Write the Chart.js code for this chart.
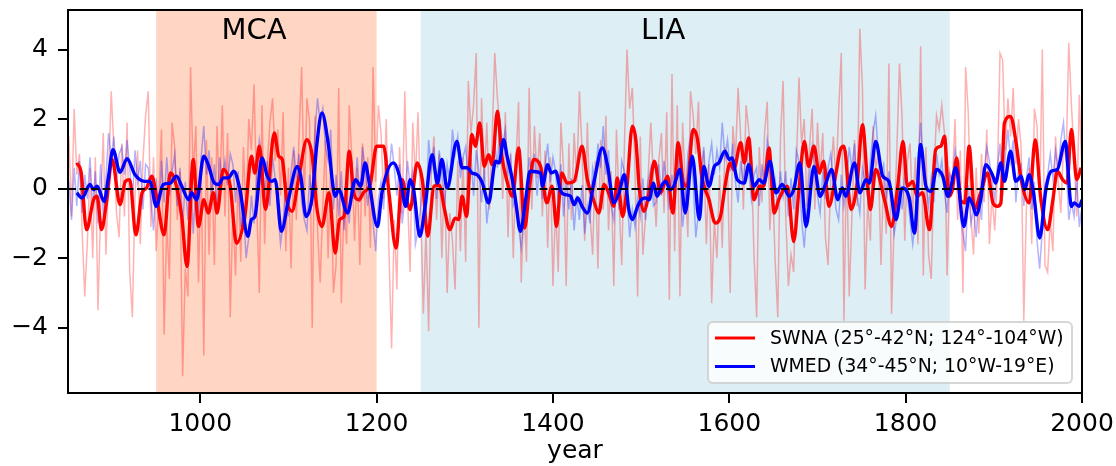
<!DOCTYPE html>
<html>
<head>
<meta charset="utf-8">
<script src="https://cdn.jsdelivr.net/npm/chart.js@4/dist/chart.umd.min.js"></script>
<style>
  html, body { margin: 0; padding: 0; background: #fff; }
  #wrap { width: 1116px; height: 466px; }
</style>
</head>
<body>
<div id="wrap"><canvas id="chart" width="1116" height="466"></canvas></div>
<script>
// annual series, sampled every 3 years from 851 to 2000
const rawStart = 851;
const rawStep = 3;

const swnaAnnual = [
  1.5, -0.8, 2.3, 0.4, 1.0, -1.2, -3.1, -1.5, 0.6, -2.0,
  0.9, -3.5, -0.6, 1.6, -1.9, 0.3, 2.8, 1.2, -0.7, -1.4,
  1.3, -0.8, 1.9, -2.4, -3.7, -0.2, 1.1, -1.6, 0.8, 2.1,
  2.8, -1.1, 0.9, -1.8, -0.3, 1.7, -4.2, -1.0, -2.6, 1.9,
  1.2, -0.9, 0.5, -5.4, -2.3, -3.1, 3.5, 0.4, 1.8, -2.7,
  0.6, -4.8, 1.4, -1.9, 0.9, -2.2, 1.8, -0.4, 2.4, -0.8,
  1.6, -3.7, -0.6, -2.5, 0.3, -2.1, 1.2, -0.9, 2.0, 1.1,
  3.0, -0.4, -3.0, 2.4, -1.6, 0.7, 1.9, 2.6, 0.8, 1.7,
  -0.2, 2.2, -1.8, 0.6, -2.3, 1.1, -0.9, 1.5, 3.5, -0.4,
  2.6, 1.9, -4.0, 2.1, -1.2, -2.7, -0.5, 1.4, -2.0, 0.9,
  -3.0, -2.2, 2.9, -3.3, -0.4, -1.6, 2.4, 0.8, -1.5, 0.6,
  -2.2, 1.3, -0.8, 0.9, -1.7, 3.5, 0.2, 2.4, 1.6, -0.3,
  2.0, -1.8, -4.6, -0.9, -2.9, 1.2, -0.7, 2.8, -0.2, -2.4,
  1.9, 0.3, 2.2, -0.6, -3.6, -1.2, -4.1, 0.4, 1.5, -0.9,
  1.0, -2.0, 0.5, -3.0, -0.7, -1.5, -2.9, 0.8, -1.8, 0.9,
  -2.1, 3.1, 1.6, 2.4, 3.9, -4.0, 2.6, 0.2, 1.9, -0.6,
  1.4, 3.9, 2.6, 1.8, -0.3, 2.2, -1.4, 1.0, -2.0, 0.7,
  2.5, -2.7, -0.4, -2.1, 2.9, -0.6, 1.8, 0.3, 1.6, -0.8,
  1.1, -1.7, 0.9, -2.8, -0.5, -2.4, 1.9, 0.6, -2.8, 1.3,
  -0.9, 1.6, 0.2, 2.8, 1.1, -1.5, 1.9, -0.7, -1.9, 0.8,
  -2.3, 1.4, -0.6, 2.1, -1.2, 0.5, -2.8, 1.7, -0.4, -2.2,
  1.2, 4.0, 2.3, 2.9, 0.6, -3.1, 1.5, -1.9, -0.8, 0.4,
  1.9, 0.3, -1.1, 0.8, 1.6, -0.7, 2.2, -3.2, 3.3, -1.8,
  2.4, -3.1, 1.9, 0.2, -1.4, 2.8, 2.1, 1.0, 2.5, -0.3,
  1.1, -1.6, 0.7, -3.3, -0.9, -2.0, 0.4, -1.7, 1.2, 0.6,
  -3.0, 1.8, 0.9, 2.9, 1.4, -0.6, 2.4, 1.7, 0.8, -1.9,
  -3.7, 1.2, -0.4, 1.6, 2.5, -1.2, 0.3, -2.1, -3.7, 1.4,
  3.1, -0.8, -2.8, -1.9, -2.4, 0.6, 3.2, 1.3, 2.0, -0.5,
  1.2, 2.3, -0.6, 1.9, 0.4, 1.6, -1.4, -2.2, 0.3, 1.5,
  0.2, 2.2, 3.9, -3.8, 0.9, -3.1, -0.8, 1.4, -0.5, 4.6,
  2.9, -2.9, -0.4, -1.5, 1.8, 0.6, 1.0, -2.2, 0.4, -1.3,
  3.6, -3.6, -0.9, 1.1, 3.6, 2.0, -1.5, 0.8, 1.3, -0.8,
  0.9, -1.6, 4.1, -2.5, 1.2, -1.9, -2.6, 0.4, 2.1, 1.7,
  2.4, 1.6, -2.5, 0.5, 0.2, 2.0, -0.9, 1.1, -3.0, 3.5,
  2.2, -0.8, -1.9, 0.6, -1.3, 1.0, -0.4, 1.7, -1.6, -0.2,
  -1.2, 0.3, 3.9, 3.7, 1.1, 2.6, 1.5, 2.9, 0.7, 2.0,
  1.2, -3.8, -0.5, 0.6, -1.6, 2.3, 1.8, -0.4, 4.0, -2.2,
  -2.4, -0.9, -1.8, 1.5, 0.2, -0.7, 1.3, 0.8, 4.2, 2.4,
  1.0, -0.8, 2.7, 0.4
];

const wmedAnnual = [
  0.2, -0.9, 0.6, -0.5, 0.8, -0.7, 0.4, -0.3, 0.9, -0.6,
  0.5, -1.0, 0.7, -0.8, 0.3, 1.6, 0.9, 1.5, 0.2, 1.0,
  1.2, 0.4, 1.4, 0.6, -0.4, 1.1, 0.2, 0.8, -0.6, 0.7,
  0.6, -0.3, -1.2, 0.3, -0.9, 0.8, -0.4, 0.9, -0.2, 0.5,
  1.0, -0.5, 0.6, -1.1, 0.2, -0.9, 0.5, -1.3, 0.1, -0.7,
  0.9, 1.8, 0.4, 1.1, -0.3, 0.7, -0.6, 0.9, 0.2, 0.8,
  0.1, 1.0, 0.7, -0.4, 0.5, -1.1, -0.6, -2.0, -1.4, -0.2,
  -1.0, 0.3, 1.4, 0.9, -0.2, 0.8, -0.5, 0.9, 0.3, -0.6,
  -1.6, -1.0, 0.2, -0.8, 0.5, 1.2, 0.3, 1.0, -0.4, -0.9,
  -1.2, 0.4, -0.5, 1.6, 2.6, 1.9, 2.3, 1.2, 0.8, 1.7,
  -0.6, 0.4, -0.8, 0.5, -1.2, -0.2, -1.0, 0.8, -0.3, 0.9,
  -0.4, 1.2, 0.6, -0.5, 0.3, -1.0, -1.8, -0.3, 0.2, -0.6,
  1.0, 0.4, 1.3, 0.6, -0.2, 0.7, -1.0, -0.3, 0.8, 0.1,
  0.5, -1.6, -1.2, -0.5, 0.3, -0.8, 1.4, 0.6, 1.2, -0.3,
  1.1, 0.4, -0.6, 0.7, 0.2, 1.7, 1.0, 1.5, 0.3, 0.9,
  1.2, 0.2, 0.9, -0.2, 1.1, 0.5, -0.4, 0.6, -1.0, -0.3,
  0.3, 1.3, 0.6, 2.0, 1.2, 1.7, 0.4, 0.9, -0.5, -0.3,
  -1.1, -1.7, -0.9, -0.2, 0.9, 0.3, 1.0, -0.2, 0.8, -0.3,
  0.6, 1.3, 0.2, 0.9, 0.5, -0.4, 0.7, -0.8, 0.2, -0.6,
  0.3, -1.2, -0.2, -0.9, 0.1, -1.3, -0.5, -1.0, 0.6, 0.2,
  1.3, 0.6, 1.8, 0.4, 1.1, -0.5, -0.9, 0.2, -0.6, 0.8,
  0.5, -0.2, -1.4, -0.6, -1.1, -0.3, -0.8, 0.3, -0.9, 0.2,
  0.6, -0.5, -0.4, 0.7, -0.2, 0.8, 0.1, -0.6, 0.4, -0.3,
  1.1, 0.3, -1.1, -0.4, 1.0, 1.5, 0.2, -1.4, -0.7, 0.4,
  1.2, -0.1, 0.8, 1.3, 0.4, 1.1, 0.6, 1.9, 0.9, 1.4,
  0.5, 1.3, 0.2, -0.4, 0.8, 0.1, 1.2, 0.5, -0.3, 0.4,
  0.6, -0.5, 0.7, 0.1, 1.4, 0.9, -0.4, 0.2, -0.6, 0.5,
  -0.2, 0.5, -0.8, 0.3, -0.6, 1.1, 0.8, -0.9, -1.7, -0.6,
  0.4, 1.2, 0.7, -0.2, -0.7, 0.5, -0.3, 0.6, 1.0, 0.3,
  -0.6, -0.9, 0.4, -0.5, 0.1, 1.2, 0.6, 1.3, -0.2, -0.7,
  0.6, 0.2, -0.3, 0.8, 1.6, 2.1, 1.0, 0.4, 0.7, -0.3,
  0.5, -0.4, -1.3, -0.8, 0.3, -0.6, 0.4, -0.2, -0.9, -1.6,
  -0.9, 0.8, 1.9, 0.6, 0.2, -0.5, 0.3, -0.4, 1.0, 0.4,
  0.8, -0.1, -0.7, 0.4, 0.2, 1.1, 0.6, -0.8, -1.3, -1.8,
  0.1, -1.0, -0.6, -1.4, -0.2, -0.9, 0.5, 1.2, 0.8, 0.2,
  -0.3, 0.6, 1.3, -0.2, 0.9, 1.7, 0.8, 1.4, -0.4, 0.6,
  0.7, -0.5, 0.3, 0.9, -0.6, 0.2, -1.5, -2.3, -1.2, 0.1,
  0.4, 1.0, 0.3, 1.1, 0.5, 1.4, 1.9, 0.8, -0.9, -0.4,
  -0.8, 0.3, -1.1, -0.5
];

// smoothed series, [year, value]
const swnaSmooth = [
  [860,0.74],[865,0.45],[871,-1.18],[879,-0.32],[883,-0.22],[888,-1.18],[894,-0.32],[900,0.84],
  [909,-0.46],[915,0.21],[920,0.26],[927,-1.33],[934,-0.12],[939,0.02],[945,0.36],[951,-0.32],
  [959,-1.33],[966,0.45],[971,0.26],[979,-0.8],[985,-2.24],[992,0.84],[998,-1.09],[1004,-0.32],
  [1009,-0.7],[1015,-0.12],[1019,-0.7],[1026,0.55],[1034,0.07],[1041,-1.57],[1051,-0.7],[1058,0.93],
  [1062,0.45],[1067,1.22],[1074,-0.6],[1084,1.6],[1089,0.93],[1093,0.84],[1098,-0.32],[1104,-0.65],
  [1112,0.36],[1121,1.41],[1127,0.93],[1132,-0.51],[1138,-1.09],[1146,-0.12],[1153,-1.85],[1158,-0.89],
  [1163,-0.8],[1169,1.08],[1174,-0.12],[1180,-0.32],[1185,-0.12],[1193,0.16],[1200,1.22],[1208,1.22],
  [1214,-0.12],[1222,-1.71],[1229,0.26],[1234,-0.32],[1238,-0.6],[1246,0.74],[1252,0.21],[1258,-1.37],
  [1265,0.07],[1271,0.1],[1277,-0.6],[1283,-1.18],[1289,-0.85],[1293,-0.89],[1297,-0.22],[1302,-0.8],
  [1308,1.56],[1312,1.22],[1317,1.89],[1322,0.64],[1327,0.98],[1331,0.69],[1337,2.23],[1342,0.93],
  [1348,0.21],[1354,-0.22],[1361,1.17],[1368,-1.13],[1373,-0.03],[1378,0.84],[1386,0.64],[1393,-0.41],
  [1399,0.07],[1404,-1.09],[1410,0.45],[1416,0.16],[1424,0.21],[1433,1.22],[1439,0.26],[1446,-0.32],
  [1452,-0.7],[1458,0.12],[1463,-0.12],[1469,-0.51],[1473,0.31],[1479,-0.8],[1484,0.07],[1490,1.8],
  [1494,1.4],[1498,-0.03],[1503,-0.65],[1509,-0.12],[1515,0.79],[1522,-0.12],[1530,0.36],[1536,-0.7],
  [1542,1.32],[1548,0.16],[1552,0.07],[1559,1.7],[1564,1.41],[1569,0.31],[1577,-0.32],[1584,-0.99],
  [1590,-0.8],[1596,0.21],[1601,0.74],[1605,0.55],[1613,1.32],[1617,0.74],[1622,1.46],[1628,-0.32],
  [1634,0.07],[1639,0.07],[1645,1.17],[1651,-0.7],[1656,-0.32],[1666,0.07],[1673,-1.52],[1679,-0.03],
  [1685,1.36],[1690,0.64],[1696,1.22],[1702,0.45],[1707,0.79],[1713,-0.51],[1721,0.45],[1726,1.12],
  [1730,1.22],[1738,-0.6],[1745,0.16],[1751,1.84],[1757,0.07],[1760,-0.6],[1766,0.55],[1776,-0.32],
  [1784,-1.09],[1791,0.07],[1797,1.36],[1802,0.07],[1808,0.21],[1813,-0.22],[1819,-0.12],[1827,-1.18],
  [1834,1.12],[1840,1.22],[1844,1.51],[1849,-0.22],[1853,-0.03],[1858,0.88],[1862,-0.32],[1867,-0.41],
  [1872,1.22],[1878,-0.6],[1885,-0.12],[1893,0.45],[1899,-0.41],[1904,-0.51],[1908,-0.41],[1912,1.89],
  [1919,2.08],[1925,1.36],[1931,0.26],[1940,-0.41],[1947,1.41],[1953,-0.22],[1961,-1.18],[1967,-0.32],
  [1972,0.5],[1978,0.26],[1983,0.16],[1988,1.7],[1994,0.26],[1999,0.6]
];

const wmedSmooth = [
  [860,-0.12],[866,-0.27],[875,0.12],[879,-0.03],[883,0.07],[891,-0.37],[896,0.36],[901,1.12],
  [909,0.47],[917,0.86],[926,0.4],[937,0.21],[943,0.21],[950,-0.51],[958,0.12],[966,0.16],
  [973,0.36],[979,0.07],[987,-0.32],[990,-0.12],[996,-0.32],[1004,0.93],[1009,0.69],[1016,0.16],
  [1021,0.12],[1026,0.31],[1032,0.31],[1038,0.5],[1045,-0.03],[1054,-1.37],[1058,-0.89],[1062,-0.8],
  [1070,0.88],[1076,0.36],[1081,0.21],[1085,0.26],[1092,-1.23],[1100,-0.32],[1110,0.64],[1114,0.36],
  [1120,-0.8],[1127,-0.22],[1132,1.22],[1138,2.18],[1145,1.32],[1153,-0.22],[1157,-0.03],[1167,-0.7],
  [1176,0.26],[1182,0.07],[1187,0.74],[1191,0.26],[1201,-1.09],[1206,-0.12],[1219,0.74],[1227,0.26],
  [1233,-0.51],[1238,0.26],[1242,-0.03],[1249,-1.37],[1255,-0.51],[1263,0.98],[1269,0.16],[1274,0.84],
  [1280,0.02],[1291,1.36],[1297,0.6],[1303,0.6],[1308,0.45],[1314,0.4],[1320,0.16],[1327,-0.41],
  [1335,0.79],[1339,0.74],[1344,1.41],[1348,0.93],[1354,0.26],[1358,-0.41],[1363,-1.23],[1369,-0.32],
  [1374,0.5],[1386,0.45],[1388,0.07],[1394,0.69],[1398,0.45],[1403,0.5],[1409,-0.08],[1414,-0.17],
  [1420,-0.22],[1424,-0.46],[1428,-0.27],[1433,-0.51],[1439,-0.7],[1447,0.26],[1456,1.17],[1462,0.64],
  [1469,-0.41],[1475,-0.12],[1481,0.4],[1486,-0.6],[1490,-0.89],[1496,-0.51],[1500,-0.32],[1505,-0.27],
  [1509,-0.32],[1514,0.16],[1518,-0.22],[1524,0.12],[1528,0.21],[1533,-0.03],[1537,0.07],[1544,0.55],
  [1550,-0.7],[1558,0.93],[1566,-0.89],[1571,0.64],[1577,0.07],[1583,0.64],[1588,0.74],[1595,1.08],
  [1600,0.84],[1603,0.88],[1609,0.26],[1617,0.16],[1622,0.69],[1628,0.07],[1634,0.26],[1639,0.16],
  [1646,0.79],[1653,-0.12],[1660,0.12],[1668,-0.22],[1673,-0.03],[1680,0.74],[1687,-1.09],[1696,0.64],
  [1703,-0.22],[1709,0.12],[1716,0.55],[1723,-0.32],[1728,0.02],[1732,-0.22],[1742,0.74],[1748,-0.12],
  [1755,0.26],[1759,0.16],[1766,1.36],[1774,0.36],[1781,0.21],[1789,-0.89],[1796,0.02],[1804,-0.27],
  [1810,-1.28],[1817,1.27],[1823,0.07],[1829,-0.08],[1835,0.55],[1842,0.36],[1848,-0.22],[1857,0.6],
  [1866,-1.09],[1872,-0.27],[1876,-0.46],[1880,-0.75],[1885,-0.32],[1891,0.69],[1899,0.36],[1902,0.16],
  [1908,0.74],[1912,0.21],[1919,1.08],[1925,0.21],[1931,0.36],[1935,-0.03],[1940,0.4],[1945,-0.12],
  [1952,-1.42],[1959,-0.03],[1965,0.5],[1972,0.55],[1981,1.36],[1988,-0.51],[1991,-0.41],[1997,-0.51],
  [2000,-0.32]
];

const periods = [
  { name: 'MCA', from: 950, to: 1200, labelAt: 1061, color: '#ffd5c4' },
  { name: 'LIA', from: 1250, to: 1850, labelAt: 1525, color: '#ddeef4' }
];

const seriesLabels = ['SWNA (25°-42°N; 124°-104°W)', 'WMED (34°-45°N; 10°W-19°E)'];
const xTicks = [1000, 1200, 1400, 1600, 1800, 2000];
const yTicks = [-4, -2, 0, 2, 4];

const FONT = 'DejaVu Sans';

function toPoints(vals) {
  return vals.map((v, i) => ({ x: rawStart + i * rawStep, y: v }));
}

// shaded periods + their labels, under the lines
const periodsPlugin = {
  id: 'periods',
  beforeDatasetsDraw(chart) {
    const { ctx, chartArea: a, scales: { x } } = chart;
    ctx.save();
    periods.forEach(p => {
      const x0 = x.getPixelForValue(p.from);
      const x1 = x.getPixelForValue(p.to);
      ctx.fillStyle = p.color;
      ctx.fillRect(x0, a.top, x1 - x0, a.bottom - a.top);
    });
    ctx.fillStyle = '#000';
    ctx.font = '29px "' + FONT + '"';
    ctx.textAlign = 'center';
    ctx.textBaseline = 'alphabetic';
    periods.forEach(p => {
      ctx.fillText(p.name, x.getPixelForValue(p.labelAt), a.top + 29);
    });
    ctx.restore();
  }
};

// dashed zero line, frame, legend
const overlayPlugin = {
  id: 'overlay',
  afterDatasetsDraw(chart) {
    const { ctx, chartArea: a, scales: { y } } = chart;
    ctx.save();
    const y0 = Math.round(y.getPixelForValue(0));
    ctx.strokeStyle = '#000';
    ctx.lineWidth = 2;
    ctx.setLineDash([8, 3.5]);
    ctx.beginPath();
    ctx.moveTo(a.left, y0);
    ctx.lineTo(a.right, y0);
    ctx.stroke();
    ctx.restore();
  },
  afterDraw(chart) {
    const { ctx, chartArea: a } = chart;
    ctx.save();
    // legend
    const w = 364, h = 61;
    const lx = a.right - 10 - w, ly = a.bottom - 10 - h;
    ctx.beginPath();
    ctx.roundRect(lx, ly, w, h, 5);
    ctx.fillStyle = 'rgba(255,255,255,0.8)';
    ctx.fill();
    ctx.strokeStyle = 'rgba(204,204,204,0.8)';
    ctx.lineWidth = 2;
    ctx.stroke();
    const colors = ['#ff0000', '#0000ff'];
    ctx.font = '18.8px "' + FONT + '"';
    ctx.textBaseline = 'middle';
    ctx.textAlign = 'left';
    seriesLabels.forEach((t, i) => {
      const yy = ly + 16 + i * 28.5;
      ctx.strokeStyle = colors[i];
      ctx.lineWidth = 3;
      ctx.beginPath();
      ctx.moveTo(lx + 7, yy);
      ctx.lineTo(lx + 47, yy);
      ctx.stroke();
      ctx.fillStyle = '#000';
      ctx.fillText(t, lx + 62, yy + 1);
    });
    // frame
    ctx.strokeStyle = '#000';
    ctx.lineWidth = 2;
    ctx.strokeRect(a.left, a.top, a.right - a.left, a.bottom - a.top);
    ctx.restore();
  }
};

new Chart(document.getElementById('chart').getContext('2d'), {
  type: 'line',
  data: {
    datasets: [
      {
        label: seriesLabels[0] + ' annual',
        data: toPoints(swnaAnnual),
        borderColor: 'rgba(255,0,0,0.3)',
        borderWidth: 1.5,
        pointRadius: 0,
        tension: 0,
        order: 4
      },
      {
        label: seriesLabels[1] + ' annual',
        data: toPoints(wmedAnnual),
        borderColor: 'rgba(0,0,255,0.3)',
        borderWidth: 1.5,
        pointRadius: 0,
        tension: 0,
        order: 3
      },
      {
        label: seriesLabels[0],
        data: swnaSmooth,
        borderColor: '#ff0000',
        borderWidth: 3.4,
        pointRadius: 0,
        cubicInterpolationMode: 'monotone',
        order: 2
      },
      {
        label: seriesLabels[1],
        data: wmedSmooth,
        borderColor: '#0000ff',
        borderWidth: 3.4,
        pointRadius: 0,
        cubicInterpolationMode: 'monotone',
        order: 1
      }
    ]
  },
  options: {
    responsive: false,
    animation: false,
    devicePixelRatio: 1,
    layout: { padding: { top: 10, right: 34, left: 0, bottom: 0 } },
    plugins: {
      legend: { display: false },
      tooltip: { enabled: false }
    },
    scales: {
      x: {
        type: 'linear',
        min: 850,
        max: 2000,
        afterBuildTicks: s => { s.ticks = xTicks.map(v => ({ value: v })); },
        afterFit: s => { s.height = 73; s.paddingLeft = 0; s.paddingRight = 0; },
        grid: { display: true, drawOnChartArea: false, drawTicks: true, tickLength: 10, color: '#000', lineWidth: 2 },
        border: { display: true, color: '#000', width: 2 },
        ticks: {
          color: '#000',
          padding: 6,
          maxRotation: 0,
          font: { family: FONT, size: 25 },
          callback: v => String(v)
        },
        title: { display: true, text: 'year', color: '#000', padding: { top: 0, bottom: 0 }, font: { family: FONT, size: 25 } }
      },
      y: {
        min: -5.88,
        max: 5.14,
        afterBuildTicks: s => { s.ticks = yTicks.map(v => ({ value: v })); },
        afterFit: s => { s.width = 68; s.paddingTop = 0; s.paddingBottom = 0; },
        grid: { display: true, drawOnChartArea: false, drawTicks: true, tickLength: 10, color: '#000', lineWidth: 2 },
        border: { display: true, color: '#000', width: 2 },
        ticks: {
          color: '#000',
          padding: 10,
          font: { family: FONT, size: 25 },
          callback: v => v < 0 ? '\u2212' + Math.abs(v) : String(v)
        }
      }
    }
  },
  plugins: [periodsPlugin, overlayPlugin]
});
</script>
</body>
</html>
